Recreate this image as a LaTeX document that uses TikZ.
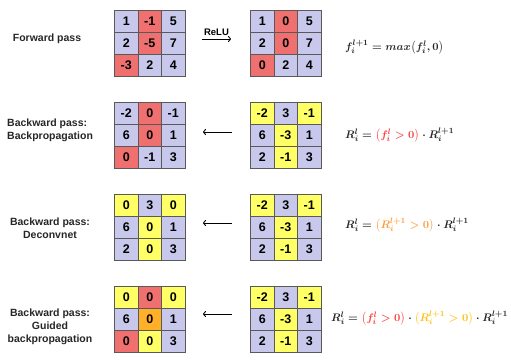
\documentclass[tikz,border=0pt]{standalone}
\usepackage{amsmath}
\usepackage[no-math]{fontspec}
\setmainfont{Liberation Sans}
\usepackage{xcolor}
\usepackage{tikz}
\usetikzlibrary{arrows.meta,positioning,calc}
\definecolor{lav}{RGB}{200,200,236}
\definecolor{redc}{RGB}{240,112,112}
\definecolor{yelc}{RGB}{255,255,102}
\definecolor{orac}{RGB}{255,176,40}
\definecolor{fred}{RGB}{250,60,60}
\definecolor{forange}{RGB}{255,155,60}
\definecolor{fgold}{RGB}{255,192,20}
\newcommand{\cw}{23.5}
\newcommand{\ch}{22}
% name, left x, top y, entries value/colour
\newcommand{\cellgrid}[4]{%
  \foreach \val/\col [count=\k from 0] in {#4} {
    \pgfmathtruncatemacro{\ri}{int(\k/3)}
    \pgfmathtruncatemacro{\ci}{mod(\k,3)}
    \node[cell, fill=\col] (#1-\k) at ({#2+(\ci+0.5)*\cw},{#3+(\ri+0.5)*\ch}) {\val};
  }
}

\begin{document}
\begin{tikzpicture}[x=1pt, y=-1pt,
    cell/.style={rectangle, draw=black!65, line width=0.8pt, minimum width=\cw pt, minimum height=\ch pt, inner sep=0pt, font=\fontsize{12.5}{14}\selectfont\bfseries},
    passlabel/.style={font=\fontsize{10.5}{13}\selectfont\bfseries, text=black!85, align=center, inner sep=0pt},
    formula/.style={anchor=west, inner sep=0pt, text=black!85, font=\fontsize{11}{13}\selectfont\boldmath},
    arr/.style={-{To[length=3pt,width=6pt]}, line width=0.9pt}
]
    \useasboundingbox (0,0) rectangle (511,360);

    % forward pass
    \node[passlabel] (fwd) at (47,39) {Forward pass};
    \cellgrid{fl}{114.5}{10}{1/lav,-1/redc,5/lav,2/lav,-5/redc,7/lav,-3/redc,2/lav,4/lav}
    \cellgrid{fr}{250.5}{10}{1/lav,0/redc,5/lav,2/lav,0/redc,7/lav,0/redc,2/lav,4/lav}
    \coordinate (fw-s) at (202,39);
    \coordinate (fw-e) at (231,39);
    \draw[arr] (fw-s) -- (fw-e) node[midway, above=3pt, font=\fontsize{9.5}{11}\selectfont\bfseries, inner sep=0pt] (relu) {ReLU};
    \node[formula] (eqf) at (345,47) {$f_i^{l+1} = max\big(f_i^l, 0\big)$};

    % backpropagation
    \node[passlabel, align=left, anchor=west] (bp) at (7,130) {Backward pass:\\Backpropagation};
    \cellgrid{bl}{114.5}{102}{-2/lav,0/redc,-1/lav,6/lav,0/redc,1/lav,0/redc,-1/lav,3/lav}
    \cellgrid{br}{250.5}{102}{-2/yelc,3/lav,-1/yelc,6/lav,-3/yelc,1/lav,2/lav,-1/yelc,3/lav}
    \coordinate (bp-s) at (232,132);
    \coordinate (bp-e) at (203,132);
    \draw[arr] (bp-s) -- (bp-e);
    \node[formula] (eqb) at (345,135) {$R_i^l = \textcolor{fred}{\big(f_i^l > 0\big)} \cdot R_i^{l+1}$};

    % deconvnet
    \node[passlabel] (dc) at (50,228) {Backward pass:\\Deconvnet};
    \cellgrid{dl}{114.5}{194}{0/yelc,3/lav,0/yelc,6/lav,0/yelc,1/lav,2/lav,0/yelc,3/lav}
    \cellgrid{dr}{250.5}{194}{-2/yelc,3/lav,-1/yelc,6/lav,-3/yelc,1/lav,2/lav,-1/yelc,3/lav}
    \coordinate (dc-s) at (232,223);
    \coordinate (dc-e) at (203,223);
    \draw[arr] (dc-s) -- (dc-e);
    \node[formula] (eqd) at (345,225) {$R_i^l = \textcolor{forange}{\big(R_i^{l+1} > 0\big)} \cdot R_i^{l+1}$};

    % guided backpropagation
    \node[passlabel] (gb) at (50,327) {Backward pass:\\Guided\\backpropagation};
    \cellgrid{gl}{114.5}{286}{0/yelc,0/redc,0/yelc,6/lav,0/orac,1/lav,0/redc,0/yelc,3/lav}
    \cellgrid{gr}{250.5}{286}{-2/yelc,3/lav,-1/yelc,6/lav,-3/yelc,1/lav,2/lav,-1/yelc,3/lav}
    \coordinate (gb-s) at (232,314);
    \coordinate (gb-e) at (203,314);
    \draw[arr] (gb-s) -- (gb-e);
    \node[formula] (eqg) at (331,318) {$R_i^l = \textcolor{fred}{\big(f_i^l > 0\big)} \cdot \textcolor{fgold}{\big(R_i^{l+1} > 0\big)} \cdot R_i^{l+1}$};
\end{tikzpicture}
\end{document}
